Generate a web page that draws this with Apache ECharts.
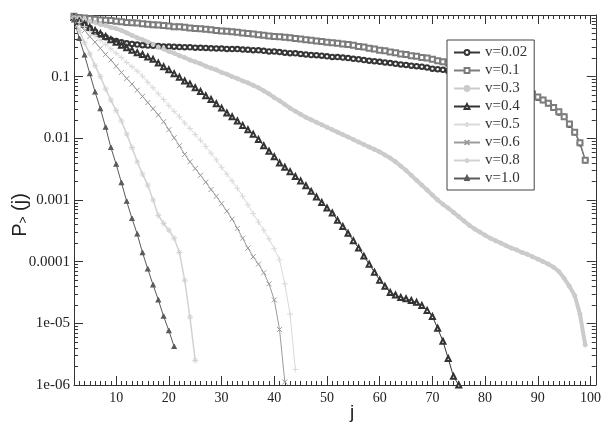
<!DOCTYPE html>
<html>
<head>
<meta charset="utf-8">
<script src="https://cdn.jsdelivr.net/npm/echarts@6/dist/echarts.min.js"></script>
<style>html,body{margin:0;padding:0;background:#fff}#c{width:604px;height:428px}</style>
</head>
<body>
<div id="c"></div>
<script>
// Series names (legend)
const seriesNames = ['v=0.02','v=0.1','v=0.3','v=0.4','v=0.5','v=0.6','v=0.8','v=1.0'];
// Each series starts at j = 2 and has one point per integer j
const jStart = 2;
// P_>(j) values
const v002 = [0.933,0.813,0.708,0.617,0.537,0.479,0.437,0.398,0.380,0.363,0.347,0.339,0.331,0.324,0.320,0.316,0.315,0.309,0.308,
  0.307,0.302,0.301,0.300,0.295,0.294,0.293,0.288,0.287,0.286,0.282,0.281,0.280,0.275,0.274,
  0.269,0.268,0.263,0.257,0.256,0.251,0.245,0.240,0.239,0.234,0.229,0.224,0.223,0.219,0.214,0.209,0.208,0.204,0.200,
  0.195,0.191,0.186,0.182,0.178,0.174,0.170,0.166,0.162,0.158,0.155,0.151,0.148,0.145,0.141,0.135,0.132,0.129,
  0.123,0.117,0.112,0.107,0.102,0.0977,0.0933,0.0891,0.0851,0.0813,0.0776,0.0741,0.0692,0.0661,0.0617,0.0575,
  0.0513,0.0457,0.0417,0.0372,0.0316,0.0263,0.0224,0.0166,0.0126,0.0083,0.0044];
const v01 = [0.95,0.912,0.891,0.871,0.851,0.832,0.825,0.813,0.794,0.776,0.759,0.752,0.741,0.724,0.708,0.692,0.688,0.676,0.661,
  0.646,0.642,0.631,0.617,0.603,0.600,0.589,0.575,0.562,0.550,0.547,0.537,0.525,0.513,0.501,0.490,
  0.479,0.468,0.457,0.447,0.444,0.437,0.427,0.417,0.407,0.398,0.389,0.380,0.372,0.363,0.355,0.347,0.339,0.331,
  0.324,0.309,0.302,0.288,0.282,0.269,0.263,0.251,0.245,0.234,0.229,0.219,0.214,0.204,0.200,0.191,0.182,0.174,
  0.166,0.158,0.148,0.141,0.132,0.123,0.117,0.110,0.102,0.0955,0.0891,0.0813,0.0759,0.0692,0.0631,0.0575,
  0.0525,0.0468,0.0417,0.0372,0.0316,0.0269,0.0224,0.0170,0.0126,0.0085,0.0044];
const v03 = [0.933,0.891,0.851,0.794,0.759,0.708,0.676,0.631,0.603,0.562,
  0.513,0.468,0.427,0.398,0.363,0.331,0.302,0.282,0.257,0.240,
  0.219,0.204,0.186,0.174,0.162,0.148,0.138,0.129,0.117,0.110,
  0.100,0.0933,0.0851,0.0794,0.0724,0.0661,0.0589,0.0525,0.0457,0.0407,
  0.0355,0.0309,0.0275,0.0245,0.0219,0.0200,0.0182,0.0166,0.0151,0.0138,
  0.0126,0.0115,0.0105,0.00955,0.00871,0.00794,0.00724,0.00661,0.00603,0.00537,
  0.00479,0.00417,0.00355,0.00302,0.00251,0.00209,0.00174,0.00145,0.00120,0.00100,
  0.000851,0.000741,0.000631,0.000537,0.000457,0.000389,0.000339,0.000302,0.000269,0.000240,
  0.000219,0.000200,0.000182,0.000166,0.000155,0.000141,0.000132,0.000120,0.000110,0.000100,
  9.12e-5,8.13e-5,6.92e-5,5.37e-5,3.98e-5,2.82e-5,1.41e-5,4.47e-6];
const v04 = [0.912,0.794,0.708,0.631,0.562,0.501,0.447,0.398,0.363,0.324,
  0.295,0.269,0.245,0.229,0.209,0.191,0.166,0.145,0.129,0.112,
  0.0977,0.0851,0.0759,0.0661,0.0575,0.0490,0.0427,0.0363,0.0309,0.0257,
  0.0224,0.0191,0.0162,0.0138,0.0117,0.00955,0.00759,0.00617,0.00501,0.00398,
  0.00339,0.00288,0.00240,0.00204,0.00170,0.00138,0.00112,0.000912,0.000741,0.000617,
  0.000468,0.000372,0.000288,0.000219,0.000166,0.000123,9.12e-5,6.76e-5,5.01e-5,3.98e-5,
  3.16e-5,2.88e-5,2.63e-5,2.51e-5,2.34e-5,2.19e-5,1.95e-5,1.62e-5,1.29e-5,8.32e-6,
  5.13e-6,2.69e-6,1.38e-6,1.0e-6];
const v05 = [0.891,0.759,0.646,0.537,0.457,0.389,0.331,0.282,0.240,0.204,
  0.170,0.145,0.123,0.102,0.0813,0.0661,0.0525,0.0427,0.0339,0.0275,
  0.0224,0.0178,0.0145,0.0115,0.00933,0.00741,0.00575,0.00447,0.00339,0.00263,
  0.00204,0.00155,0.00115,0.000832,0.000603,0.000437,0.000324,0.000234,0.000162,0.000107,
  4.37e-5,1.41e-5,1.78e-6];
const v06 = [0.891,0.708,0.562,0.447,0.363,0.288,0.229,0.186,0.148,0.117,
  0.0933,0.0759,0.0603,0.0479,0.0380,0.0302,0.0240,0.0186,0.0138,0.0102,
  0.00759,0.00550,0.00417,0.00324,0.00251,0.00195,0.00148,0.00115,0.000871,0.000661,
  0.000490,0.000347,0.000240,0.000166,0.000120,9.12e-5,6.61e-5,4.37e-5,2.40e-5,7.94e-6,
  1.12e-6];
const v08 = [0.891,0.562,0.355,0.234,0.151,0.100,0.0631,0.0417,0.0282,0.0191,
  0.0117,0.00708,0.00417,0.00263,0.00174,0.00100,0.000562,0.000417,0.000324,0.000240,
  0.000141,5.01e-5,1.26e-5,2.51e-6];
const v10 = [0.832,0.417,0.224,0.112,0.0562,0.0302,0.0151,0.00708,0.00380,0.00191,
  0.00095,0.00050,0.00028,0.00014,7.6e-5,4.2e-5,2.4e-5,1.3e-5,7.6e-6,4.2e-6];

// Axis ticks / labels
const xMajorTicks = [10,20,30,40,50,60,70,80,90,100];
const xTickLabels = ['10','20','30','40','50','60','70','80','90','100'];
const yDecades = [-6,-5,-4,-3,-2,-1,0];
const yTickLabels = ['1e-06','1e-05','0.0001','0.001','0.01','0.1'];

const xMinorTicks = [];
for (let k = 2; k <= 101; k++) xMinorTicks.push(k);
const yMinorTicks = [];
for (let d = -6; d < 0; d++) for (let k = 2; k <= 9; k++) yMinorTicks.push(d + Math.log10(k));

const allValues = [v002, v01, v03, v04, v05, v06, v08, v10];
const styles = [
  {color:'#363636', symbol:'emptyCircle', size:4.5, width:1},
  {color:'#7c7c7c', symbol:'emptyRect', size:5, width:1.5},
  {color:'#cbcbcb', symbol:'circle', size:4, width:4},
  {color:'#333333', symbol:'emptyTriangle', size:5, width:1},
  {color:'#dadada', symbol:'path://M5,0L5,10M0,5L10,5', size:6, width:1},
  {color:'#9c9c9c', symbol:'path://M0,0L10,10M10,0L0,10', size:5, width:1},
  {color:'#d2d2d2', symbol:'path://M5,0L5,10M0,5L10,5M1.5,1.5L8.5,8.5M8.5,1.5L1.5,8.5', size:6, width:1.5},
  {color:'#5a5a5a', symbol:'path://M0,10L5,0L10,10', size:5, width:1}
];

const series = allValues.map((vals, si) => {
  const st = styles[si];
  return {
    name: seriesNames[si],
    type: 'line',
    xAxisIndex: 0, yAxisIndex: 0,
    data: vals.map((p, i) => [jStart + i, Math.log10(p)]),
    symbol: st.symbol,
    symbolSize: st.size,
    showSymbol: true,
    lineStyle: {color: st.color, width: st.width},
    itemStyle: {color: st.color, borderColor: st.color, borderWidth: 1},
    z: 2
  };
});

const axisColor = '#333';
const labelFont = {fontFamily: 'Liberation Serif', color: '#222'};
function xAx(pos, major, labels) {
  return {
    type: 'value', min: 2, max: 101, position: pos,
    axisLine: {show: major, onZero: false, lineStyle: {color: axisColor, width: 1}},
    axisTick: {show: true, inside: true, length: major ? 9 : 4, customValues: major ? xMajorTicks : xMinorTicks, lineStyle: {color: axisColor}},
    axisLabel: labels ? Object.assign({show: true, customValues: xMajorTicks, fontSize: 14, margin: 6,
      formatter: v => xTickLabels[xMajorTicks.indexOf(Math.round(v))] || ''}, labelFont) : {show: false},
    splitLine: {show: false}
  };
}
function yAx(pos, major, labels) {
  return {
    type: 'value', min: -6, max: 0, position: pos,
    axisLine: {show: major, onZero: false, lineStyle: {color: axisColor, width: 1}},
    axisTick: {show: true, inside: true, length: major ? 9 : 4, customValues: major ? yDecades : yMinorTicks, lineStyle: {color: axisColor}},
    axisLabel: labels ? Object.assign({show: true, customValues: [-6,-5,-4,-3,-2,-1], fontSize: 15, margin: 4,
      formatter: v => yTickLabels[Math.round(v) + 6] || ''}, labelFont) : {show: false},
    splitLine: {show: false}
  };
}

const chart = echarts.init(document.getElementById('c'), null, {renderer: 'canvas'});
chart.setOption({
  animation: false,
  backgroundColor: '#fff',
  grid: {left: 74, right: 3, top: 15, bottom: 43, containLabel: false},
  xAxis: [xAx('bottom', true, true), xAx('bottom', false, false), xAx('top', true, false), xAx('top', false, false)],
  yAxis: [yAx('left', true, true), yAx('left', false, false), yAx('right', true, false), yAx('right', false, false)],
  legend: {
    data: seriesNames,
    z: 20,
    orient: 'vertical', left: 447, top: 40,
    padding: [5, 7, 4, 6], itemGap: 3, itemWidth: 26, itemHeight: 6,
    backgroundColor: '#fff', borderColor: '#444', borderWidth: 1, borderRadius: 0,
    textStyle: {fontFamily: 'Liberation Serif', fontSize: 15, lineHeight: 13, color: '#333'}
  },
  graphic: [
    {type: 'text', x: 20, y: 215, rotation: Math.PI / 2, z: 100,
     style: {text: '{p|P}{s|>}{p| (j)}', align: 'center', verticalAlign: 'middle',
       rich: {p: {fontFamily: 'Liberation Sans', fontSize: 20, fill: '#222'},
              s: {fontFamily: 'Liberation Sans', fontSize: 12, fill: '#222', verticalAlign: 'bottom'}}}},
    {type: 'text', x: 352, y: 413, z: 100,
     style: {text: 'j', fontFamily: 'Liberation Sans', fontSize: 19, fill: '#222', align: 'center', verticalAlign: 'middle'}}
  ],
  series: series
});
</script>
</body>
</html>
